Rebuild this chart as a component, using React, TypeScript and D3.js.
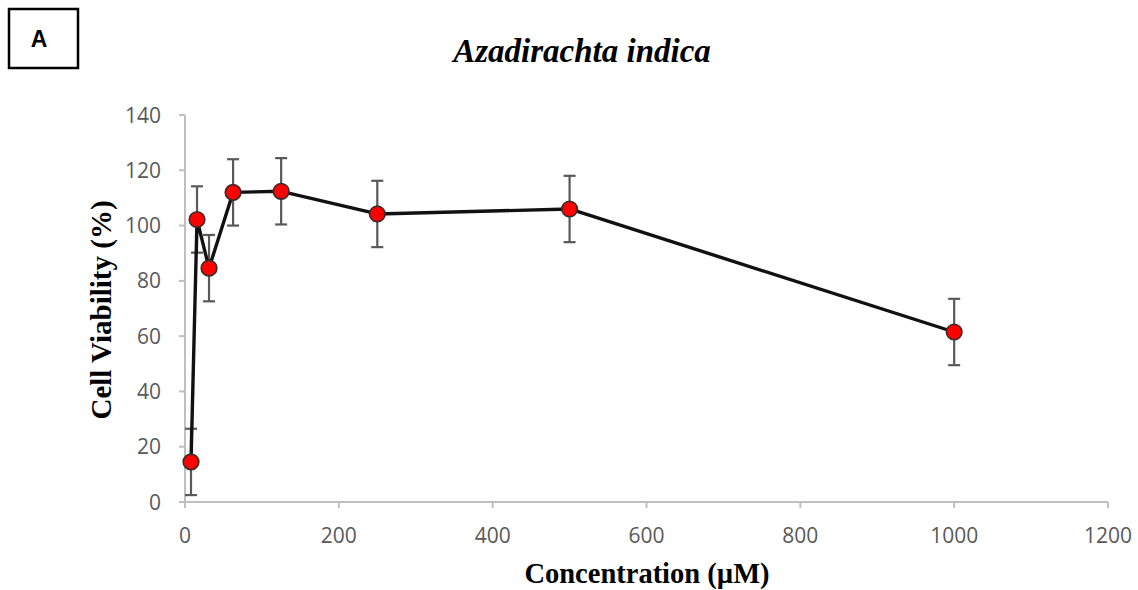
import React from 'react';
import * as d3 from 'd3';

const concentrations = [7.8125, 15.625, 31.25, 62.5, 125, 250, 500, 1000];
const viability = [14.5, 102.2, 84.6, 112.0, 112.4, 104.2, 106.0, 61.5];
const errors = [12, 12, 12, 12, 12, 12, 12, 12];
const xTicks = [0, 200, 400, 600, 800, 1000, 1200];
const yTicks = [0, 20, 40, 60, 80, 100, 120, 140];

const W = 1138;
const H = 590;

const App = () => {
  const x = d3.scaleLinear().domain([0, 1200]).range([185, 1108]);
  const y = d3.scaleLinear().domain([0, 140]).range([502, 115]);

  const points = concentrations.map((c, i) => ({ c, v: viability[i], e: errors[i] }));
  const line = d3
    .line<{ c: number; v: number }>()
    .x((d) => x(d.c))
    .y((d) => y(d.v));

  const axisColor = '#bfbfbf';
  const labelColor = '#595959';
  const tickFont = "'Open Sans', 'Liberation Sans', sans-serif";
  const serif = "'Liberation Serif', 'DejaVu Serif', serif";

  return (
    <svg width={W} height={H} style={{ position: 'absolute', left: 0, top: 0 }}>
      <rect width={W} height={H} fill="#fff" />

      {/* panel letter */}
      <rect x={9} y={9} width={69} height={59} fill="none" stroke="#000" strokeWidth={2.5} />
      <text x={39} y={47} textAnchor="middle" fontFamily="'Liberation Sans', Arial, sans-serif" fontWeight="bold" fontSize={23}>
        A
      </text>

      <text x={582} y={62} textAnchor="middle" fontFamily={serif} fontStyle="italic" fontWeight="bold" fontSize={33}>
        Azadirachta indica
      </text>

      {/* axes */}
      <line x1={x(0)} x2={x(0)} y1={y(140)} y2={y(0)} stroke={axisColor} strokeWidth={2} />
      <line x1={x(0)} x2={x(1200)} y1={y(0)} y2={y(0)} stroke={axisColor} strokeWidth={2} />
      {yTicks.map((t) => (
        <g key={'y' + t}>
          <line x1={x(0) - 6} x2={x(0)} y1={y(t)} y2={y(t)} stroke={axisColor} strokeWidth={2} />
          <text x={x(0) - 24} y={y(t)} dy="0.36em" textAnchor="end" fill={labelColor} fontFamily={tickFont} fontSize={21}>
            {t}
          </text>
        </g>
      ))}
      {xTicks.map((t) => (
        <g key={'x' + t}>
          <line x1={x(t)} x2={x(t)} y1={y(0)} y2={y(0) + 6} stroke={axisColor} strokeWidth={2} />
          <text x={x(t)} y={y(0) + 41} textAnchor="middle" fill={labelColor} fontFamily={tickFont} fontSize={21}>
            {t}
          </text>
        </g>
      ))}

      {/* error bars */}
      {points.map((p, i) => (
        <g key={'e' + i} stroke="#595959" strokeWidth={2.2}>
          <line x1={x(p.c)} x2={x(p.c)} y1={y(p.v + p.e)} y2={y(p.v - p.e)} />
          <line x1={x(p.c) - 6} x2={x(p.c) + 6} y1={y(p.v + p.e)} y2={y(p.v + p.e)} />
          <line x1={x(p.c) - 6} x2={x(p.c) + 6} y1={y(p.v - p.e)} y2={y(p.v - p.e)} />
        </g>
      ))}

      <path d={line(points) || ''} fill="none" stroke="#111" strokeWidth={3.4} strokeLinejoin="round" />

      {points.map((p, i) => (
        <circle key={'p' + i} cx={x(p.c)} cy={y(p.v)} r={7.8} fill="#ff0000" stroke="#3a2a2a" strokeWidth={1.6} />
      ))}

      <text
        transform={`translate(111,${310}) rotate(-90)`}
        textAnchor="middle"
        fontFamily={serif}
        fontWeight="bold"
        fontSize={29}
      >
        Cell Viability (%)
      </text>
      <text x={647} y={583} textAnchor="middle" fontFamily={serif} fontWeight="bold" fontSize={28.5}>
        Concentration (µM)
      </text>
    </svg>
  );
};

export default App;
